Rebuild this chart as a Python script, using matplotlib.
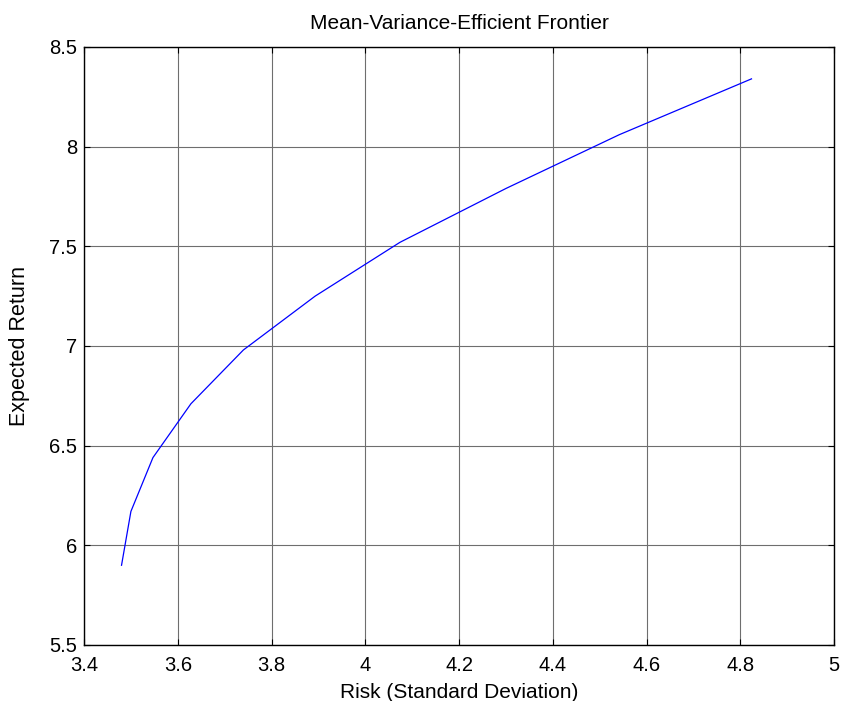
import numpy as np
import matplotlib
matplotlib.use('Agg')
import matplotlib.pyplot as plt

# efficient frontier points
risk = [3.480, 3.500, 3.547, 3.628, 3.740, 3.893, 4.074, 4.300, 4.542, 4.824]
ret = [5.90, 6.17, 6.44, 6.71, 6.98, 7.25, 7.52, 7.79, 8.06, 8.34]

xticks = [3.4, 3.6, 3.8, 4.0, 4.2, 4.4, 4.6, 4.8, 5.0]
yticks = [5.5, 6.0, 6.5, 7.0, 7.5, 8.0, 8.5]
xticklabels = ['3.4', '3.6', '3.8', '4', '4.2', '4.4', '4.6', '4.8', '5']
yticklabels = ['5.5', '6', '6.5', '7', '7.5', '8', '8.5']

plt.rcParams['font.family'] = ['Liberation Sans', 'DejaVu Sans']

fig = plt.figure(figsize=(8.42, 7.01), dpi=100)
ax = fig.add_axes([0.0998, 0.0799, 0.8907, 0.8531])

ax.plot(risk, ret, color='#0000ff', lw=0.9)

ax.set_xlim(3.4, 5.0)
ax.set_ylim(5.5, 8.5)
ax.set_xticks(xticks)
ax.set_xticklabels(xticklabels)
ax.set_yticks(yticks)
ax.set_yticklabels(yticklabels)
ax.grid(True, color='#6e6e6e', lw=0.8)
ax.set_axisbelow(True)
ax.tick_params(direction='in', length=4, width=0.8, top=True, right=True,
               labelsize=14.5)
ax.tick_params(axis='x', pad=8)
ax.tick_params(axis='y', pad=5)
for s in ax.spines.values():
    s.set_linewidth(1.0)
    s.set_color('black')

ax.set_xlabel('Risk (Standard Deviation)', fontsize=15, labelpad=6)
ax.set_ylabel('Expected Return', fontsize=15.5, labelpad=14)
ax.set_title('Mean-Variance-Efficient Frontier', fontsize=15, pad=13)

fig.savefig('out.png', dpi=100)
